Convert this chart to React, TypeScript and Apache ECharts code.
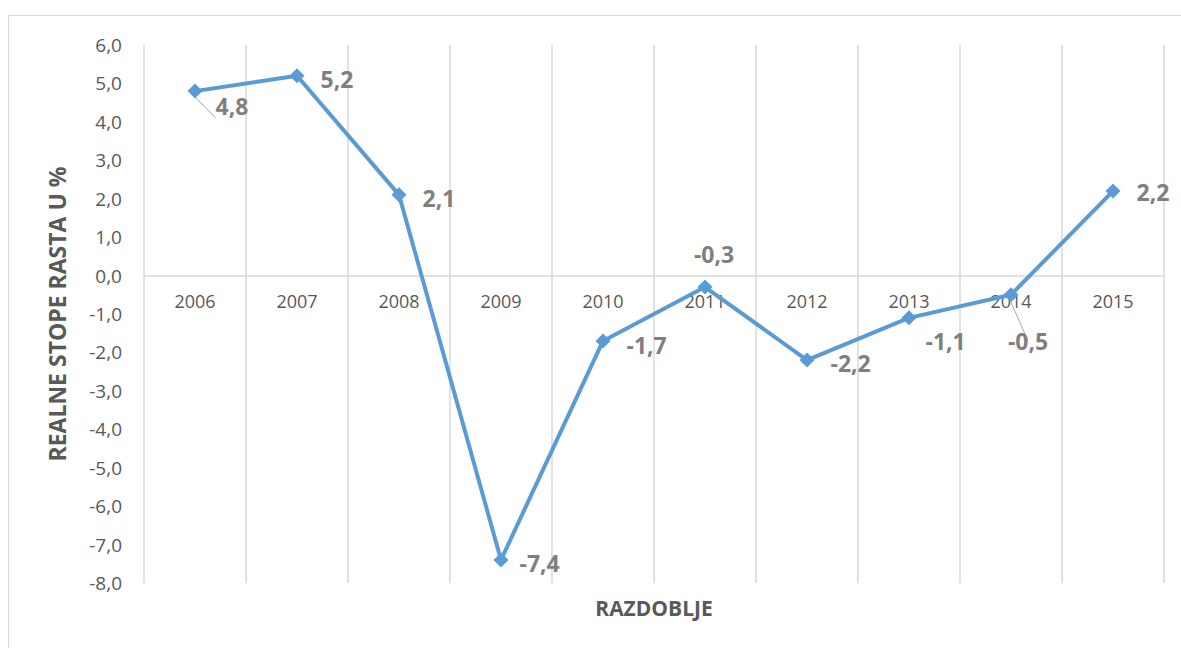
import React, { useEffect, useRef } from "react";
import * as echarts from "echarts";

const years = ["2006", "2007", "2008", "2009", "2010", "2011", "2012", "2013", "2014", "2015"];
const growth = [4.8, 5.2, 2.1, -7.4, -1.7, -0.3, -2.2, -1.1, -0.5, 2.2];
const yMin = -8;
const yMax = 6;
// label placement per point: [position, distance, dx, dy, guide line]
const labelPlace: [string, number, number, number, boolean][] = [
  ["right", 13, 0, 15, true],
  ["right", 16, 0, 3, false],
  ["right", 16, 0, 3, false],
  ["right", 11, 0, 3, false],
  ["right", 16, 0, 4, false],
  ["top", 14, 9, 0, false],
  ["right", 16, 0, 3, false],
  ["right", 9, 0, 23, false],
  ["bottom", 27, 17, 0, true],
  ["right", 16, 0, 1, false],
];
const yAxisTitle = "REALNE STOPE RASTA U %";
const xAxisTitle = "RAZDOBLJE";

const fmt = (v: number) => v.toFixed(1).replace(".", ",");

export default function App() {
  const ref = useRef<HTMLDivElement>(null);
  useEffect(() => {
    document.body.style.margin = "0";
    const chart = echarts.init(ref.current!, null, { renderer: "svg" });
    const font = "'Open Sans', 'Liberation Sans', sans-serif";
    const gridTop = 45;
    const gridBottom = 65;
    const gridHeight = 648 - gridTop - gridBottom;
    const zeroOffset = -(gridHeight * (0 - yMin)) / (yMax - yMin);
    chart.setOption({
      animation: false,
      backgroundColor: "#ffffff",
      grid: { left: 144, right: 17, top: gridTop, bottom: gridBottom, containLabel: false },
      graphic: [
        {
          type: "rect",
          shape: { x: 8.5, y: 15.5, width: 1300, height: 800 },
          style: { fill: "none", stroke: "#d9d9d9", lineWidth: 1 },
          silent: true,
          z: -10,
        },
        {
          type: "text",
          x: 654,
          y: 608,
          style: {
            text: xAxisTitle,
            textAlign: "center",
            textVerticalAlign: "middle",
            fill: "#595959",
            font: `bold 21px ${font}`,
          },
        },
      ],
      xAxis: {
        type: "category",
        data: years,
        boundaryGap: true,
        position: "bottom",
        offset: zeroOffset,
        axisLine: { onZero: false, lineStyle: { color: "#d9d9d9", width: 1.5 } },
        axisTick: { show: false },
        axisLabel: { color: "#595959", fontSize: 18, fontFamily: font, margin: 16 },
        splitLine: { show: true, lineStyle: { color: "#d9d9d9", width: 1.5 } },
      },
      yAxis: {
        type: "value",
        min: yMin,
        max: yMax,
        interval: 1,
        axisLine: { show: false },
        axisTick: { show: false },
        splitLine: { show: false },
        axisLabel: {
          color: "#595959",
          fontSize: 19,
          fontFamily: font,
          margin: 22,
          formatter: (v: number) => fmt(v),
        },
        name: yAxisTitle,
        nameLocation: "middle",
        nameRotate: 90,
        nameGap: 76,
        nameTextStyle: { color: "#595959", fontSize: 23, fontWeight: "bold", fontFamily: font },
      },
      series: [
        {
          type: "line",
          data: growth.map((v, i) => ({
            value: v,
            label: {
              position: labelPlace[i][0],
              distance: labelPlace[i][1],
              offset: [labelPlace[i][2], labelPlace[i][3]],
            },
            labelLine: { show: labelPlace[i][4] },
          })),
          symbol: "diamond",
          symbolSize: 15,
          lineStyle: { color: "#5b9bd5", width: 4 },
          itemStyle: { color: "#5b9bd5" },
          labelLine: { lineStyle: { color: "#a6a6a6", width: 1 } },
          label: {
            show: true,
            color: "#7f7f7f",
            fontSize: 23,
            fontWeight: "bold",
            fontFamily: font,
            formatter: (p: any) => fmt(p.value),
          },
        },
      ],
    });
    return () => chart.dispose();
  }, []);
  return <div ref={ref} style={{ width: 1181, height: 648 }} />;
}
